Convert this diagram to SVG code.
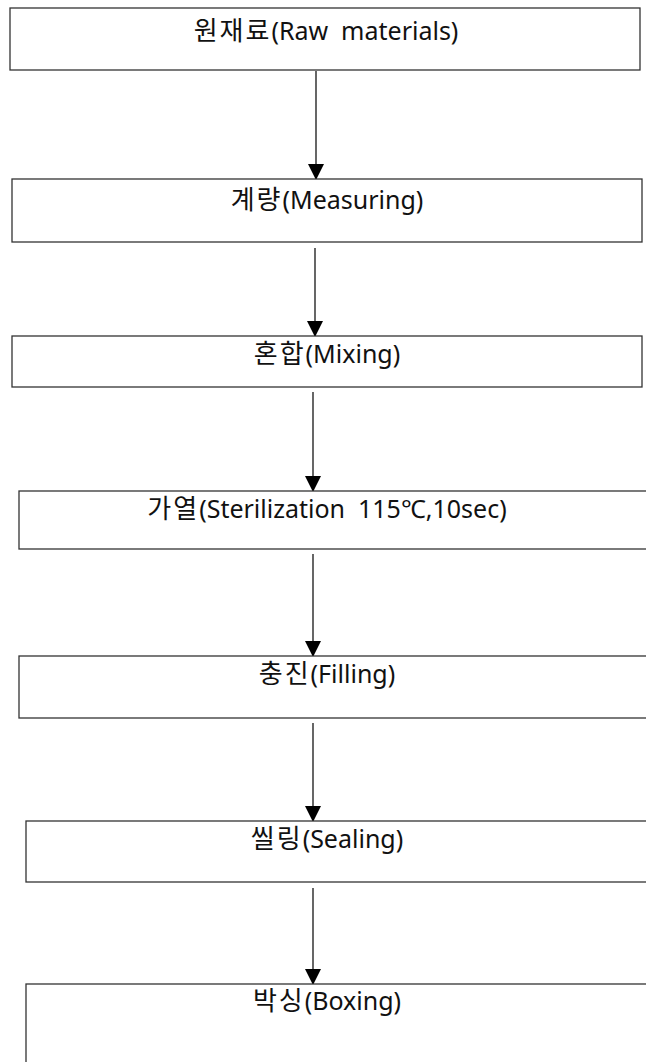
<svg xmlns="http://www.w3.org/2000/svg" width="646" height="1062" viewBox="0 0 646 1062">
<style>
.box{fill:#fff;stroke:#333;stroke-width:1.3}
.lbl{font-family:"Noto Sans","Noto Sans CJK KR",sans-serif;font-size:25px;fill:#111;text-anchor:middle;white-space:pre}
.ko{font-family:"Noto Sans CJK KR",sans-serif;font-size:26px;letter-spacing:2px}
.conn{stroke:#000;stroke-width:1.2;fill:none}
</style>
<defs>
<marker id="ah" markerUnits="userSpaceOnUse" markerWidth="16" markerHeight="18" refX="15" refY="8" orient="auto">
<path d="M0,0 L16,8 L0,16 Z" fill="#000"/>
</marker>
</defs>
<rect width="646" height="1062" fill="#fff"/>
<g id="connectors">
<line class="conn" x1="316" y1="71" x2="316" y2="179" stroke-width="2" marker-end="url(#ah)"/>
<line class="conn" x1="315" y1="248" x2="315" y2="336" marker-end="url(#ah)"/>
<line class="conn" x1="313" y1="392" x2="313" y2="491" marker-end="url(#ah)"/>
<line class="conn" x1="313" y1="554" x2="313" y2="656" marker-end="url(#ah)"/>
<line class="conn" x1="313" y1="723" x2="313" y2="821" marker-end="url(#ah)"/>
<line class="conn" x1="313" y1="888" x2="313" y2="984" marker-end="url(#ah)"/>
</g>
<g id="n1"><rect class="box" x="10" y="8" width="630" height="62"/><text class="lbl" x="326" y="40" xml:space="preserve"><tspan class="ko">원재료</tspan>(Raw  materials)</text></g>
<g id="n2"><rect class="box" x="12" y="179" width="630" height="63"/><text class="lbl" x="327" y="209" xml:space="preserve"><tspan class="ko">계량</tspan>(Measuring)</text></g>
<g id="n3"><rect class="box" x="12" y="336" width="630" height="51"/><text class="lbl" x="327" y="363" xml:space="preserve"><tspan class="ko">혼합</tspan>(Mixing)</text></g>
<g id="n4"><rect class="box" x="19" y="491" width="640" height="58"/><text class="lbl" x="327" y="518" xml:space="preserve"><tspan class="ko">가열</tspan>(Sterilization  115℃,10sec)</text></g>
<g id="n5"><rect class="box" x="19" y="656" width="640" height="62"/><text class="lbl" x="327" y="683" xml:space="preserve"><tspan class="ko">충진</tspan>(Filling)</text></g>
<g id="n6"><rect class="box" x="26" y="821" width="640" height="61"/><text class="lbl" x="327" y="848" xml:space="preserve"><tspan class="ko">씰링</tspan>(Sealing)</text></g>
<g id="n7"><rect class="box" x="26" y="984" width="640" height="100"/><text class="lbl" x="327" y="1010" xml:space="preserve"><tspan class="ko">박싱</tspan>(Boxing)</text></g>
</svg>
